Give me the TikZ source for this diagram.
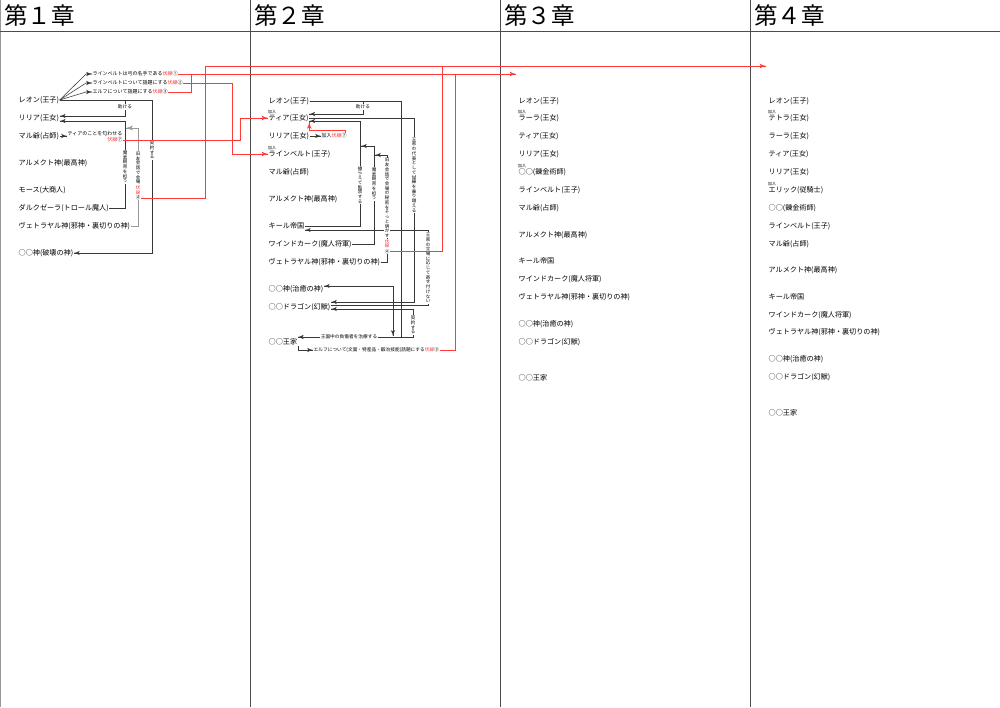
\documentclass[tikz,border=0pt]{standalone}
\usepackage{fontspec}
\setmainfont{Noto Sans CJK JP}
\usepackage{tikz}
\usetikzlibrary{arrows}
\usetikzlibrary{decorations.markings}
\usetikzlibrary{positioning}
\definecolor{redc}{rgb}{1,0.22,0.22}
\definecolor{linec}{gray}{0.22}
\tikzset{->/.style = {decoration={markings,
                                  mark=at position 1 with {\arrow[scale=1.3]{latex'}}},
                      postaction={decorate}}}
\tikzset{<->/.style = {decoration={markings,
                                   mark=at position 0 with {\arrowreversed[scale=1.3]{latex'}},
                                   mark=at position 1 with {\arrow[scale=1.3]{latex'}}},
                       postaction={decorate}}}
\tikzset{chara/.style = {anchor = west, inner sep = 0.5, font = \fontsize{7.1}{8}\selectfont}}
\tikzset{head/.style = {anchor = west, inner sep = 0, font = \fontsize{23.5}{24}\selectfont}}
\tikzset{rel/.style = {anchor = west, inner sep = 0.5, font = \fontsize{5}{6}\selectfont}}
\tikzset{onrel/.style = {fill = white, inner sep = 0.5, font = \fontsize{4.7}{5}\selectfont}}
\tikzset{tate/.style = {fill = white, inner sep = 0.3, font = \fontsize{4.5}{5}\selectfont}}
\tikzset{kanyu/.style = {anchor = south west, inner sep = 0, font = \fontsize{4}{4}\selectfont}}
\tikzset{frame/.style = {color = black!70, line width = 0.8}}
\tikzset{conn/.style = {color = linec, line width = 0.55}}
\tikzset{grayconn/.style = {color = black!40, line width = 0.8}}
\tikzset{redline/.style = {color = redc, line width = 0.7}}
\makeatletter
\newcommand\tatetext[1]{\vbox{\offinterlineskip\@tfor\tate@c:=#1\do{\hbox to 1.05em{\hss\vrule height .9em depth .15em width 0pt\tate@c\hss}}}}
\makeatother

\begin{document}
\begin{tikzpicture}[x=1pt, y=-1pt]
      \useasboundingbox (0,0) rectangle (1000,707);

      % columns
      \draw [frame, black!40] (0.5,0) -- (0.5,707);
      \draw [frame] (250,0) -- (250,707);
      \draw [frame] (500,0) -- (500,707);
      \draw [frame] (750,0) -- (750,707);
      \draw [frame] (0,31) -- (1000,31);
      \node [head] (h1) at (4,16) {第１章};
      \node [head] (h2) at (254,16) {第２章};
      \node [head] (h3) at (504,16) {第３章};
      \node [head] (h4) at (754,16) {第４章};

      % chapter 1
      \node [chara] (leon1) at (18,100) {レオン(王子)};
      \node [chara] (lilia1) at (18,118) {リリア(王女)};
      \node [chara] (maru1) at (18,136) {マル爺(占師)};
      \node [chara] (arume1) at (18,163) {アルメクト神(最高神)};
      \node [chara] (mosu1) at (18,190) {モース(大商人)};
      \node [chara] (daruku1) at (18,208) {ダルクゼーラ(トロール魔人)};
      \node [chara] (veto1) at (18,226) {ヴェトラヤル神(邪神・裏切りの神)};
      \node [chara] (hakai1) at (18,253) {○○神(破壊の神)};

      \node [rel] (f1) at (92,74) {ラインベルトは弓の名手である\textcolor{redc}{伏線}①};
      \node [rel] (f2) at (92,83) {ラインベルトについて話題にする\textcolor{redc}{伏線}②};
      \node [rel] (f3) at (92,92) {エルフについて話題にする\textcolor{redc}{伏線}③};
      \node [rel] (m7) at (67,134) {ティアのことを匂わせる};
      \node [rel, anchor = north east] (f7) at (m7.south east) {\textcolor{redc}{伏線}⑦};
      \coordinate (d1) at (126,128);

      \draw [conn, ->] (leon1.east) -- ([xshift=-6]f1.west) -- (f1.west);
      \draw [conn, ->] (leon1.east) -- ([xshift=-6]f2.west) -- (f2.west);
      \draw [conn, ->] (leon1.east) -- ([xshift=-6]f3.west) -- (f3.west);
      \draw [conn, ->] (leon1.east) -- (125,100) -- (125,116) -- ([yshift=2]lilia1.east);
      \draw [conn, ->] (leon1.east) -- (152,100) -- (152,253) -- (hakai1.east);
      \draw [conn, ->] (daruku1.east) -- (125,208) -- (125,121) -- ([yshift=-3]lilia1.east);
      \draw [grayconn, ->] (veto1.east) -- (138,226) -- (138,128) -- (d1);
      \draw [conn, ->] (maru1.east) -- (maru1.east -| m7.west);

      \node [onrel] (tasu1) at (125,107) {助ける};
      \node [tate] (kei1) at (152,150) {\tatetext{契約する}};
      \node [tate] (mas1) at (125,167) {\tatetext{魔素飼育を担う}};
      \node [tate] (kyu1) at (138,168) {\tatetext{旧友会話で会場}};
      \node [tate, below = 0pt of kyu1, text = redc] (kyu1r) {\tatetext{伏線}};
      \node [tate, below = 0pt of kyu1r] (f4) {④};

      % chapter 2
      \node [chara] (leon2) at (268,101) {レオン(王子)};
      \node [chara] (tia2) at (268,118) {ティア(王女)};
      \node [chara] (lilia2) at (268,136) {リリア(王女)};
      \node [chara] (lein2) at (268,154) {ラインベルト(王子)};
      \node [chara] (maru2) at (268,172) {マル爺(占師)};
      \node [chara] (arume2) at (268,199) {アルメクト神(最高神)};
      \node [chara] (kiru2) at (268,226) {キール帝国};
      \node [chara] (wind2) at (268,244) {ワインドカーク(魔人将軍)};
      \node [chara] (veto2) at (268,262) {ヴェトラヤル神(邪神・裏切りの神)};
      \node [chara] (chiyu2) at (268,289) {○○神(治癒の神)};
      \node [chara] (dragon2) at (268,307) {○○ドラゴン(幻獣)};
      \node [chara] (ouke2) at (268,342) {○○王家};
      \node [kanyu] at (tia2.north west) {加入};
      \node [kanyu] at (lein2.north west) {加入};

      \node [rel] (g7) at (321,136) {加入\textcolor{redc}{伏線}⑦};
      \node [rel, font = \fontsize{4.7}{5}\selectfont] (g3) at (313,350) {エルフについて(文面・特産品・鍛冶技能)話題にする\textcolor{redc}{伏線}③};
      \coordinate (c1) at (361,146);
      \coordinate (c2) at (375,155);
      \coordinate (c3) at (393,336);

      \draw [conn, ->] (lilia2.east) -- (g7.west);
      \draw [conn, ->] (leon2.east) -- (363,101) -- (363,114) -- ([yshift=4]tia2.east);
      \draw [conn, ->] (leon2.east) -- (401,101) -- (401,337) -- ([yshift=5]ouke2.east);
      \draw [conn, ->] (tia2.east) -- (414,118) -- (414,302) -- ([yshift=5]dragon2.east);
      \draw [conn, ->] (kiru2.east) -- (360,226) -- (360,121) -- ([yshift=-3]tia2.east);
      \draw [conn, ->] (wind2.east) -- (374,244) -- (374,146) -- (c1);
      \draw [conn, ->] (veto2.east) -- (387,262) -- (387,155) -- (c2);
      \draw [conn, <->] (c3) -- (393,286) -- ([yshift=3]chiyu2.east);
      \draw [conn, ->] ([yshift=2]dragon2.east) -- (428,305) -- (428,230) -- ([yshift=-4]kiru2.east);
      \draw [conn, ->] ([yshift=5]ouke2.east) -| (413,309) -- ([yshift=-2]dragon2.east);
      \draw [conn, ->] (ouke2.south east) |- (g3.west);

      \node [onrel] (tasu2) at (363,107) {助ける};
      \node [onrel] (chiryo2) at (349,337) {王国中の負傷者を治療する};
      \node [tate] (tora2) at (360,185) {\tatetext{捕らえて監禁する}};
      \node [tate] (mas2) at (374,184) {\tatetext{魔素飼育を担う}};
      \node [tate] (dai2) at (414,175) {\tatetext{王家の代表として試練を乗り越える}};
      \node [tate] (yose2) at (428,268) {\tatetext{王家の立場に応じて寄せ付けない}};
      \node [tate] (kei2) at (413,325) {\tatetext{契約する}};
      \node [tate] (kyu2) at (387,198) {\tatetext{旧友会話で会場の秘密をそっと明かす}};
      \node [tate, below = 0pt of kyu2, text = redc] (kyu2r) {\tatetext{伏線}};
      \node [tate, below = 0pt of kyu2r] (g4) {④};

      % foreshadowing
      \coordinate (t3) at (516,74);
      \coordinate (t4) at (766,66);
      \draw [redline, ->] (f1.east) -- (t3);
      \draw [redline] (f3.east) -| (191,74);
      \draw [redline, ->] (f2.east) -| (232,154) -- (lein2.west);
      \draw [redline, ->] (f7.east) -| (240,118) -- (tia2.west);
      \draw [redline, ->] (f4.east) -| (205,66) -- (t4);
      \draw [redline] (g4.east) -| (442,66);
      \draw [redline] (g3.east) -| (455,74);
      \draw [redline, ->] ([xshift=-2.5]g7.north east) |- ([yshift=-8]tia2.south east) -- (tia2.south east);

      % chapter 3
      \node [chara] (leon3) at (518,101) {レオン(王子)};
      \node [chara] (lara3) at (518,118) {ラーラ(王女)};
      \node [chara] (tia3) at (518,136) {ティア(王女)};
      \node [chara] (lilia3) at (518,154) {リリア(王女)};
      \node [chara] (ren3) at (518,172) {○○(錬金術師)};
      \node [chara] (lein3) at (518,190) {ラインベルト(王子)};
      \node [chara] (maru3) at (518,208) {マル爺(占師)};
      \node [chara] (arume3) at (518,235) {アルメクト神(最高神)};
      \node [chara] (kiru3) at (518,261) {キール帝国};
      \node [chara] (wind3) at (518,279) {ワインドカーク(魔人将軍)};
      \node [chara] (veto3) at (518,297) {ヴェトラヤル神(邪神・裏切りの神)};
      \node [chara] (chiyu3) at (518,324) {○○神(治癒の神)};
      \node [chara] (dragon3) at (518,342) {○○ドラゴン(幻獣)};
      \node [chara] (ouke3) at (518,378) {○○王家};
      \node [kanyu] at (lara3.north west) {加入};
      \node [kanyu] at (ren3.north west) {加入};

      % chapter 4
      \node [chara] (leon4) at (768,101) {レオン(王子)};
      \node [chara] (tetra4) at (768,118) {テトラ(王女)};
      \node [chara] (lara4) at (768,136) {ラーラ(王女)};
      \node [chara] (tia4) at (768,154) {ティア(王女)};
      \node [chara] (lilia4) at (768,172) {リリア(王女)};
      \node [chara] (eric4) at (768,190) {エリック(従騎士)};
      \node [chara] (ren4) at (768,208) {○○(錬金術師)};
      \node [chara] (lein4) at (768,226) {ラインベルト(王子)};
      \node [chara] (maru4) at (768,244) {マル爺(占師)};
      \node [chara] (arume4) at (768,270) {アルメクト神(最高神)};
      \node [chara] (kiru4) at (768,297) {キール帝国};
      \node [chara] (wind4) at (768,315) {ワインドカーク(魔人将軍)};
      \node [chara] (veto4) at (768,332) {ヴェトラヤル神(邪神・裏切りの神)};
      \node [chara] (chiyu4) at (768,359) {○○神(治癒の神)};
      \node [chara] (dragon4) at (768,377) {○○ドラゴン(幻獣)};
      \node [chara] (ouke4) at (768,413) {○○王家};
      \node [kanyu] at (tetra4.north west) {加入};
      \node [kanyu] at (eric4.north west) {加入};
    \end{tikzpicture}
\end{document}
